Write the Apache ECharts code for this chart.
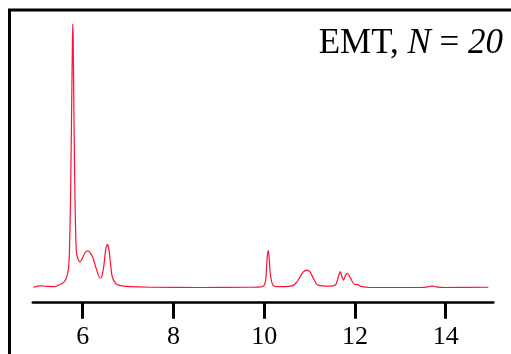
<!DOCTYPE html>
<html>
<head>
<meta charset="utf-8">
<script src="https://cdn.jsdelivr.net/npm/echarts@6/dist/echarts.min.js"></script>
<style>
html,body{margin:0;padding:0;background:#fff;}
#chart{width:511px;height:354px;}
</style>
</head>
<body>
<div id="chart"></div>
<script>
// spectrum: x position and relative intensity (0-100)
const xValues = [4.91,5.06,5.235,5.39,5.456,5.544,5.61,5.654,5.687,5.709,5.731,5.753,5.771,5.78,5.79,5.808,5.83,5.852,5.874,5.907,5.94,5.985,6.04,6.106,6.16,6.227,6.293,6.348,6.392,6.425,6.47,6.502,6.542,6.58,6.613,6.646,6.69,6.756,6.866,7.04,7.483,8.585,9.687,9.93,9.996,10.03,10.05,10.07,10.09,10.11,10.13,10.16,10.194,10.26,10.459,10.613,10.7,10.79,10.857,10.945,11.01,11.08,11.146,11.21,11.34,11.518,11.584,11.64,11.677,11.715,11.752,11.79,11.84,11.89,11.946,12.0,12.056,12.133,12.33,13.43,13.61,13.698,13.786,13.985,14.94];
const intensity = [0.1,0.6,0.4,0.3,0.8,1.5,2.5,4.4,7.4,14.2,33,63.6,90,100,94,63.6,33,16,12,10.4,9.7,10.8,12.9,13.9,13.3,11.2,7.4,4.6,3.5,4.4,8.9,13.9,16.4,14.2,8.9,4.4,2.5,1.1,0.6,0.3,0.1,0,0.1,0.2,0.8,2.5,7.4,12.3,14,11.2,5.9,2.5,0.9,0.3,0.3,0.6,1.7,4,5.9,6.6,5.9,3.6,1.5,0.8,0.5,0.6,1.3,4.4,6,4,2.8,4.6,5.4,4,2.1,1.1,1.1,0.4,0,0,0.2,0.6,0.2,0,0.1];
const tickValues = [6, 8, 10, 12, 14];
const titleParts = ['EMT, ', 'N', ' = ', '20'];

const data = xValues.map((x, i) => [x, intensity[i]]);
const chart = echarts.init(document.getElementById('chart'), null, {renderer: 'canvas'});
const serif = 'Liberation Serif';
chart.setOption({
  animation: false,
  backgroundColor: '#fff',
  title: {
    text: '{a|' + titleParts[0] + '}{b|' + titleParts[1] + '}{a|' + titleParts[2] + '}{b|' + titleParts[3] + '}',
    right: 8, top: 26, padding: 0,
    textStyle: {
      fontWeight: 'normal',
      rich: {
        a: {fontFamily: serif, fontSize: 35, fontWeight: 'normal', color: '#000'},
        b: {fontFamily: serif, fontSize: 35, fontWeight: 'normal', fontStyle: 'italic', color: '#000'}
      }
    }
  },
  graphic: [{
    type: 'rect', shape: {x: 9.5, y: 10, width: 700, height: 700},
    style: {fill: 'none', stroke: '#000', lineWidth: 3}, silent: true, z: 100
  }],
  grid: {left: 32.8, right: 17.65, top: 24, bottom: 51.3},
  xAxis: {
    type: 'value', min: 4.9, max: 15.05,
    axisLine: {onZero: false, lineStyle: {color: '#000', width: 2.6}},
    axisTick: {show: true, customValues: tickValues, length: 16, lineStyle: {color: '#000', width: 3}},
    axisLabel: {customValues: tickValues, fontFamily: serif, fontSize: 26, color: '#000', margin: 21},
    splitLine: {show: false}
  },
  yAxis: {type: 'value', min: -5.77, max: 100, show: false, splitLine: {show: false}},
  series: [{
    type: 'line', data: data, showSymbol: false, smooth: 0.2,
    lineStyle: {color: '#ff1133', width: 1.2}
  }]
});
</script>
</body>
</html>
